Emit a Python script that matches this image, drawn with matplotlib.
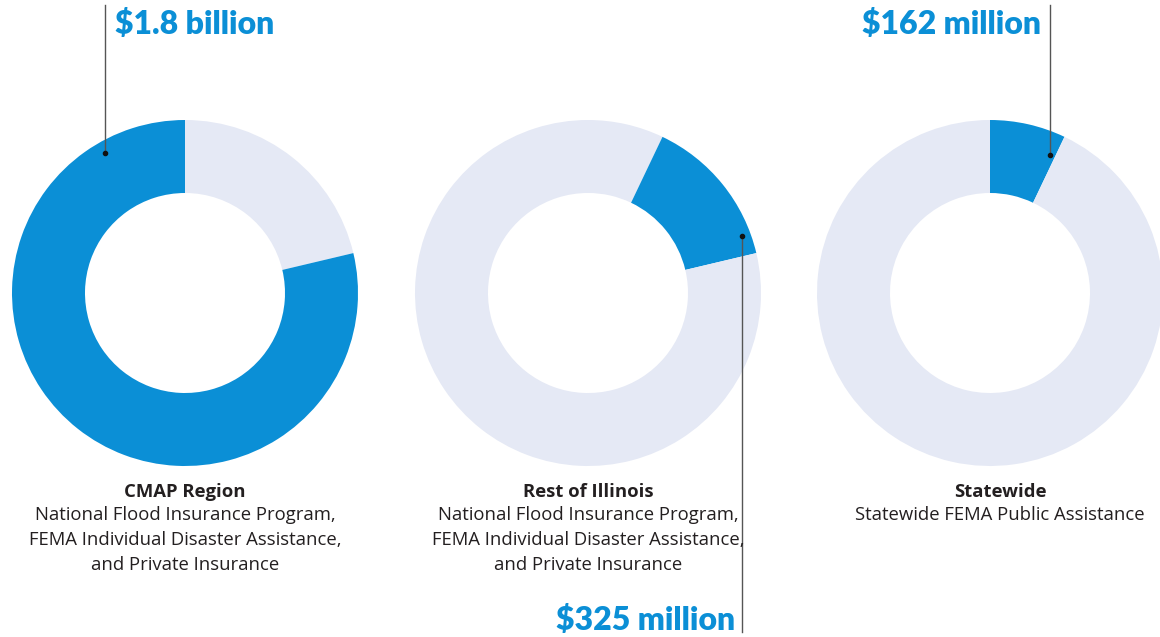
import matplotlib.pyplot as plt

# flood-loss totals, millions of dollars
regions = ["CMAP Region", "Rest of Illinois", "Statewide"]
amounts = [1800, 325, 162]
amount_labels = ["$1.8 billion", "$325 million", "$162 million"]
descriptions = [
    "National Flood Insurance Program,\nFEMA Individual Disaster Assistance,\nand Private Insurance",
    "National Flood Insurance Program,\nFEMA Individual Disaster Assistance,\nand Private Insurance",
    "Statewide FEMA Public Assistance",
]

BLUE = "#0b8fd6"
LIGHT = "#e5e9f5"
TEXT = "#231f20"

W, H = 1160, 637
fig = plt.figure(figsize=(W / 100, H / 100), dpi=100)
ax = fig.add_axes([0, 0, 1, 1])
ax.set_xlim(0, W)
ax.set_ylim(0, H)
ax.set_aspect("equal")
ax.axis("off")

cmap, rest, state = amounts
cy = H - 293
R = 173
ring = 73

# each ring shows its own slice of one shared whole, clockwise from 12 o'clock
rings = [
    (185, [rest + state, cmap], [LIGHT, BLUE]),
    (588, [state, rest, cmap], [LIGHT, BLUE, LIGHT]),
    (990, [state, rest + cmap], [BLUE, LIGHT]),
]
for cx, vals, cols in rings:
    ax.pie(vals, colors=cols, startangle=90, counterclock=False,
           center=(cx, cy), radius=R, frame=True,
           wedgeprops=dict(width=ring, linewidth=0))
ax.set_xlim(0, W)
ax.set_ylim(0, H)
ax.axis("off")

def y(p):
    return H - p

# leader lines and dots
leaders = [
    (105, 153, 5),
    (742, 236, 632),
    (1050, 155, 5),
]
for lx, dot_y, end_y in leaders:
    ax.plot([lx, lx], [y(dot_y), y(end_y)], color="#555555", lw=1)
    ax.plot(lx, y(dot_y), "o", color="#111111", ms=3)

val_font = dict(color=BLUE, fontsize=23, fontweight="heavy", family="Lato", va="center")
ax.text(115, y(24), amount_labels[0], ha="left", **val_font)
ax.text(735, y(620), amount_labels[1], ha="right", **val_font)
ax.text(1041, y(24), amount_labels[2], ha="right", **val_font)

centers = [185, 588, 1000]
for cx, name, desc in zip(centers, regions, descriptions):
    ax.text(cx, y(492), name, ha="center", va="center", fontsize=13.3,
            fontweight="bold", family="Open Sans", color=TEXT)
    ax.text(cx, y(506), desc, ha="center", va="top", fontsize=13.3,
            family="Open Sans", color=TEXT, linespacing=1.5)

fig.savefig("out.png", dpi=100, facecolor="white")
